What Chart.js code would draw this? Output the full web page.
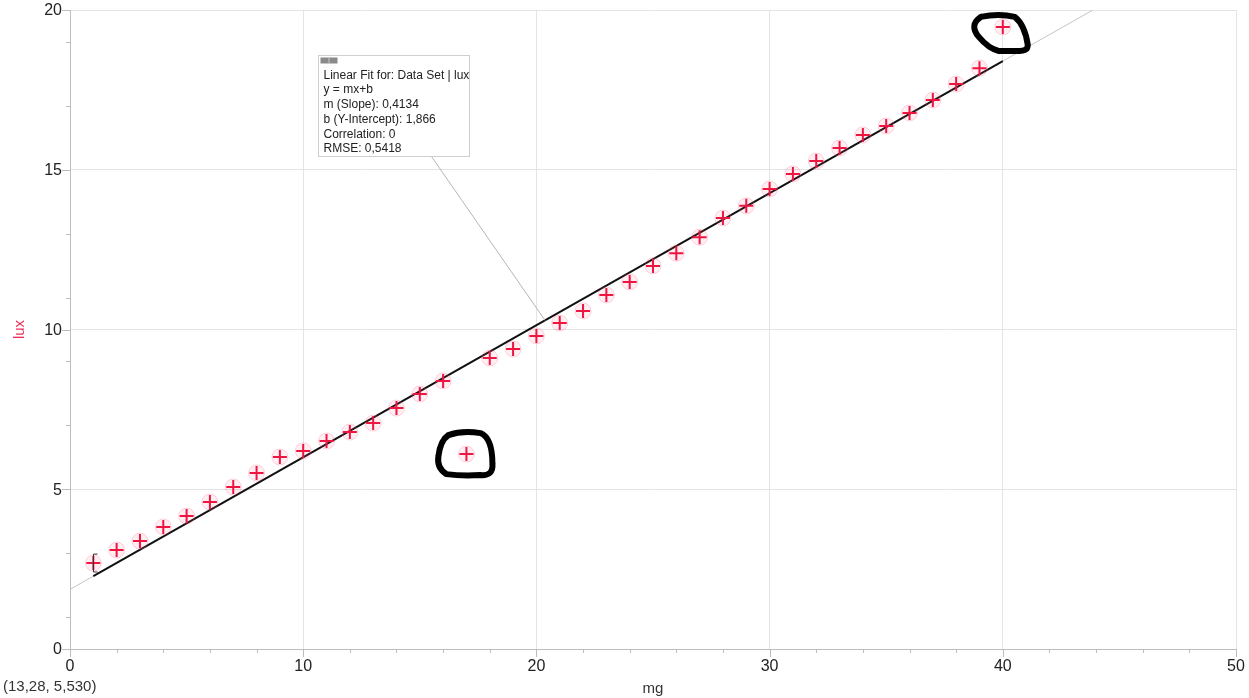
<!DOCTYPE html>
<html>
<head>
<meta charset="utf-8">
<title>lux vs mg</title>
<script src="https://cdn.jsdelivr.net/npm/chart.js@4/dist/chart.umd.min.js"></script>
<style>
  html, body { margin: 0; padding: 0; background: #fff; }
  #wrap { width: 1249px; height: 698px; position: relative; }
</style>
</head>
<body>
<div id="wrap"><canvas id="myChart"></canvas></div>
<script>
// measured data: mass (mg) against light (lux)
const mg  = [1, 2, 3, 4, 5, 6, 7, 8, 9, 10, 11, 12, 13, 14, 15, 16, 17, 18, 19, 20,
             21, 22, 23, 24, 25, 26, 27, 28, 29, 30, 31, 32, 33, 34, 35, 36, 37, 38, 39, 40];
const lux = [2.69, 3.10, 3.38, 3.82, 4.16, 4.60, 5.07, 5.51, 6.01, 6.20,
             6.51, 6.79, 7.07, 7.54, 7.98, 8.39, 6.10, 9.11, 9.39, 9.80,
             10.20, 10.58, 11.08, 11.49, 11.99, 12.39, 12.89, 13.49, 13.87, 14.40,
             14.87, 15.27, 15.68, 16.09, 16.37, 16.78, 17.18, 17.68, 18.18, 19.47];

// linear fit results
const slope = 0.4134;
const intercept = 1.866;
const rmse = 0.5418;
const fitFrom = 1;
const fitTo = 40;

// error bracket on first point
const errX = 1;
const errLow = 2.41;
const errHigh = 2.97;

// points circled by hand
const circledX = [17, 40];

const xTicks = [0, 10, 20, 30, 40, 50];
const yTicks = [0, 5, 10, 15, 20];

const points = mg.map((x, i) => ({ x: x, y: lux[i] }));
const fitLine = [fitFrom, fitTo].map(x => ({ x: x, y: slope * x + intercept }));
const fitExtended = [{ x: 0, y: intercept }, { x: (20 - intercept) / slope, y: 20 }];

const fontFam = 'Arial, "Liberation Sans", sans-serif';
const red = '#ee1540';

// tick marks and tick labels, drawn outside the plot area
// (labels drawn here so they don't push the chart area around)
const tickMarks = {
  id: 'tickMarks',
  afterDraw(chart) {
    const ctx = chart.ctx, xs = chart.scales.x, ys = chart.scales.y;
    const ca = chart.chartArea;
    ctx.save();
    ctx.strokeStyle = '#bdbdbd';
    ctx.lineWidth = 1;
    for (let v = 0; v <= 50; v += 2) {
      const px = Math.round(xs.getPixelForValue(v)) + 0.5;
      const len = v % 10 === 0 ? 8 : 4;
      ctx.beginPath(); ctx.moveTo(px, ca.bottom); ctx.lineTo(px, ca.bottom + len); ctx.stroke();
    }
    for (let v = 0; v <= 20; v++) {
      if (v % 5 !== 0 && v % 2 === 0) continue;
      const py = Math.round(ys.getPixelForValue(v)) + 0.5;
      const len = v % 5 === 0 ? 8 : 4;
      ctx.beginPath(); ctx.moveTo(ca.left - len, py); ctx.lineTo(ca.left, py); ctx.stroke();
    }
    ctx.font = '16px ' + fontFam;
    ctx.fillStyle = '#222';
    ctx.textAlign = 'center';
    ctx.textBaseline = 'middle';
    xTicks.forEach(v => ctx.fillText(String(v), xs.getPixelForValue(v), ca.bottom + 18));
    ctx.textAlign = 'right';
    yTicks.forEach(v => ctx.fillText(String(v), ca.left - 8, ys.getPixelForValue(v) + 1));
    ctx.restore();
  }
};

// axis titles and cursor readout
const axisText = {
  id: 'axisText',
  afterDraw(chart) {
    const ctx = chart.ctx, ca = chart.chartArea;
    ctx.save();
    ctx.font = '15px ' + fontFam;
    ctx.fillStyle = '#333';
    ctx.textAlign = 'center';
    ctx.textBaseline = 'middle';
    ctx.fillText('mg', (ca.left + ca.right) / 2, 689);
    ctx.textAlign = 'left';
    ctx.fillText('(13,28, 5,530)', 3, 687);
    ctx.translate(20, (ca.top + ca.bottom) / 2);
    ctx.rotate(-Math.PI / 2);
    ctx.textAlign = 'center';
    ctx.fillStyle = '#f0305a';
    ctx.fillText('lux', 0, 0);
    ctx.restore();
  }
};

// fit info box with leader line to the fit
const fitBox = {
  id: 'fitBox',
  afterDatasetsDraw(chart) {
    const ctx = chart.ctx, xs = chart.scales.x, ys = chart.scales.y;
    const ca = chart.chartArea;
    const bx = ca.left + 248.5, by = ca.top + 45.5, bw = 151, bh = 101;
    const ax = 20.37;
    ctx.save();
    ctx.strokeStyle = '#b5b5b5';
    ctx.lineWidth = 1;
    ctx.beginPath();
    ctx.moveTo(bx + 113, by + bh);
    ctx.lineTo(xs.getPixelForValue(ax), ys.getPixelForValue(slope * ax + intercept));
    ctx.stroke();
    ctx.fillStyle = '#fff';
    ctx.fillRect(bx, by, bw, bh);
    ctx.strokeStyle = '#cfcfcf';
    ctx.strokeRect(bx, by, bw, bh);
    ctx.fillStyle = '#8a8a8a';
    ctx.fillRect(bx + 2, by + 2, 17, 6);
    ctx.fillStyle = '#c8c8c8';
    ctx.fillRect(bx + 10, by + 2, 1, 6);
    ctx.font = '12px ' + fontFam;
    ctx.fillStyle = '#222';
    ctx.textAlign = 'left';
    ctx.textBaseline = 'alphabetic';
    const fmt = v => String(v).replace('.', ',');
    const lines = [
      ['Linear Fit for: Data Set | lux', 23],
      ['y = mx+b', 37.5],
      ['m (Slope): ' + fmt(slope), 52],
      ['b (Y-Intercept): ' + fmt(intercept), 67],
      ['Correlation: 0', 82],
      ['RMSE: ' + fmt(rmse), 96]
    ];
    lines.forEach(l => ctx.fillText(l[0], bx + 5, by + l[1]));
    ctx.restore();
  }
};

// error bracket and hand drawn loops
const marks = {
  id: 'marks',
  afterDatasetsDraw(chart) {
    const ctx = chart.ctx, xs = chart.scales.x, ys = chart.scales.y;
    ctx.save();
    const ex = Math.round(xs.getPixelForValue(errX)) + 0.5;
    const y1 = ys.getPixelForValue(errHigh), y2 = ys.getPixelForValue(errLow);
    ctx.strokeStyle = '#333';
    ctx.lineWidth = 1;
    ctx.beginPath();
    ctx.moveTo(ex + 4, y1); ctx.lineTo(ex, y1); ctx.lineTo(ex, y2); ctx.lineTo(ex + 4, y2);
    ctx.stroke();

    ctx.strokeStyle = '#000';
    ctx.lineWidth = 6;
    ctx.lineJoin = 'round';
    ctx.lineCap = 'round';
    // loop around the low outlier
    let i = mg.indexOf(circledX[0]);
    let cx = xs.getPixelForValue(mg[i]), cy = ys.getPixelForValue(lux[i]);
    ctx.beginPath();
    ctx.moveTo(cx - 18, cy - 19);
    ctx.quadraticCurveTo(cx - 4, cy - 24, cx + 14, cy - 21);
    ctx.quadraticCurveTo(cx + 26, cy - 16, cx + 26, cy + 10);
    ctx.quadraticCurveTo(cx + 27, cy + 22, cx + 14, cy + 21);
    ctx.quadraticCurveTo(cx - 6, cy + 22, cx - 20, cy + 20);
    ctx.quadraticCurveTo(cx - 30, cy + 14, cx - 28, cy + 2);
    ctx.quadraticCurveTo(cx - 26, cy - 14, cx - 18, cy - 19);
    ctx.stroke();
    // loop around the last point
    i = mg.indexOf(circledX[1]);
    cx = xs.getPixelForValue(mg[i]); cy = ys.getPixelForValue(lux[i]);
    ctx.beginPath();
    ctx.moveTo(cx - 22, cy - 10);
    ctx.quadraticCurveTo(cx - 4, cy - 14, cx + 12, cy - 10);
    ctx.quadraticCurveTo(cx + 22, cy - 2, cx + 25, cy + 18);
    ctx.quadraticCurveTo(cx + 25, cy + 25, cx + 14, cy + 24);
    ctx.lineTo(cx - 4, cy + 24);
    ctx.quadraticCurveTo(cx - 14, cy + 22, cx - 24, cy + 10);
    ctx.quadraticCurveTo(cx - 34, cy - 2, cx - 22, cy - 10);
    ctx.stroke();
    ctx.restore();
  }
};

const data = {
  datasets: [
    {
      label: 'lux',
      data: points,
      showLine: false,
      pointStyle: 'cross',
      pointRadius: 7,
      pointBorderWidth: 2,
      borderColor: red,
      backgroundColor: red,
      order: 0
    },
    {
      label: 'halo',
      data: points,
      showLine: false,
      pointStyle: 'circle',
      pointRadius: 8,
      pointBorderWidth: 1,
      borderColor: 'rgba(255, 90, 130, 0.25)',
      backgroundColor: 'rgba(255, 90, 130, 0.10)',
      order: 1
    },
    {
      label: 'Linear Fit',
      data: fitLine,
      showLine: true,
      borderColor: '#111',
      borderWidth: 2,
      pointRadius: 0,
      order: 2
    },
    {
      label: 'Linear Fit ext',
      data: fitExtended,
      showLine: true,
      borderColor: '#c4c4c4',
      borderWidth: 1,
      pointRadius: 0,
      order: 3
    }
  ]
};

const config = {
  type: 'scatter',
  data: data,
  options: {
    responsive: false,
    animation: false,
    layout: { padding: { top: 10, right: 13, left: 0, bottom: 0 } },
    plugins: {
      legend: { display: false },
      tooltip: { enabled: false }
    },
    scales: {
      x: {
        type: 'linear',
        min: 0,
        max: 50,
        afterFit: s => { s.height = 49; },
        afterBuildTicks: s => { s.ticks = xTicks.map(v => ({ value: v })); },
        ticks: { display: false },
        grid: { color: '#e4e4e4', drawTicks: false },
        border: { color: '#bdbdbd' }
      },
      y: {
        type: 'linear',
        min: 0,
        max: 20,
        afterFit: s => { s.width = 70; },
        afterBuildTicks: s => { s.ticks = yTicks.map(v => ({ value: v })); },
        ticks: { display: false },
        grid: { color: '#e4e4e4', drawTicks: false },
        border: { color: '#bdbdbd' }
      }
    }
  },
  plugins: [tickMarks, axisText, fitBox, marks]
};

const canvas = document.getElementById('myChart');
canvas.width = 1249;
canvas.height = 698;
const myChart = new Chart(canvas, config);
</script>
</body>
</html>
